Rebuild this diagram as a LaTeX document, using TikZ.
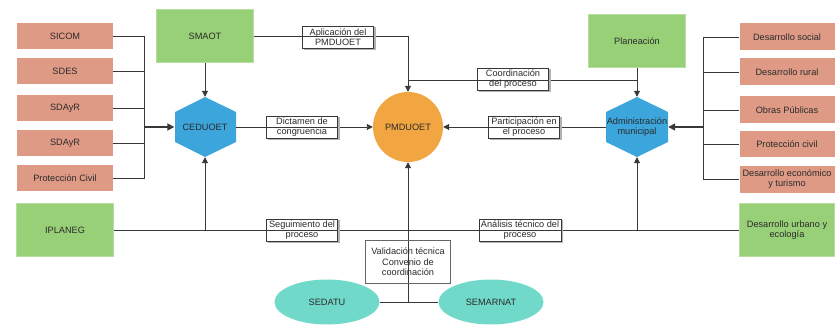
\documentclass[tikz,border=0pt]{standalone}
\usepackage{fontspec}
\setmainfont{Liberation Sans}
\usetikzlibrary{arrows.meta,shapes.geometric}
\definecolor{salmon}{HTML}{DE9A85}
\definecolor{leaf}{HTML}{98D078}
\definecolor{hexblue}{HTML}{3BA5DC}
\definecolor{orangec}{HTML}{F2A641}
\definecolor{tealc}{HTML}{70D9C9}
\definecolor{ink}{HTML}{2B2B2B}
\definecolor{wire}{HTML}{383838}
\begin{document}
\begin{tikzpicture}[x=1pt,y=-1pt,
  every node/.style={font=\fontsize{9.2}{10.5}\selectfont, text=ink, align=center},
  sbox/.style={rectangle, fill=salmon, minimum width=96pt, minimum height=26pt, inner sep=1pt},
  gbox/.style={rectangle, fill=leaf, draw=leaf!70!white, minimum width=97pt, minimum height=53pt, inner sep=1pt},
  hexn/.style={rectangle, minimum width=61pt, minimum height=60pt, inner sep=0pt},
  wireline/.style={draw=wire, line width=0.9pt},
  arr/.style={wireline, -{Triangle[length=6pt,width=6pt]}},
  busarr/.style={draw=wire, line width=1.6pt, -{Triangle[length=7pt,width=7pt]}},
  lbl/.style={rectangle, draw=wire, line width=0.7pt, minimum width=71pt, minimum height=22pt, inner xsep=2pt, inner ysep=0.5pt},
  shad/.style={draw=gray!60, line width=1.2pt},
  vbox/.style={rectangle, draw=gray!80!black, line width=0.6pt, minimum width=85pt, minimum height=43pt, inner sep=1pt}
]
\useasboundingbox (0,0) rectangle (835,326);

\newcommand{\lbox}[3]{%
  \node[lbl] (#1) at #2 {#3};
  \draw[shad] ([xshift=1.2pt,yshift=-1.6pt]#1.north east) -- ([xshift=1.2pt,yshift=-1.2pt]#1.south east) -- ([xshift=1.6pt,yshift=-1.2pt]#1.south west);
}

% left boxes
\node[sbox] (s1) at (65,36) {SICOM};
\node[sbox] (s2) at (65,71) {SDES};
\node[sbox] (s3) at (65,108) {SDAyR};
\node[sbox] (s4) at (65,143) {SDAyR};
\node[sbox] (s5) at (65,178) {Protección Civil};
\node[gbox] (ipl) at (65,230) {IPLANEG};
\node[gbox] (smaot) at (205,36) {SMAOT};

% right boxes
\node[sbox, minimum width=95pt, minimum height=27pt] (r1) at (787,37) {Desarrollo social};
\node[sbox, minimum width=95pt, minimum height=27pt] (r2) at (787,72) {Desarrollo rural};
\node[sbox, minimum width=95pt, minimum height=27pt] (r3) at (787,110) {Obras Públicas};
\node[sbox, minimum width=95pt, minimum height=26pt] (r4) at (787,144) {Protección civil};
\node[sbox, minimum width=95pt, minimum height=27pt] (r5) at (787,179) {Desarrollo económico\\y turismo};
\node[gbox, minimum width=95pt] (du) at (787,230) {Desarrollo urbano y\\ecología};
\node[gbox] (plan) at (637,41) {Planeación};

% hexagons
\fill[hexblue] (205,97) -- (236,112) -- (236,142) -- (205,157) -- (175,142) -- (175,112) -- cycle;
\node[hexn] (ced) at (205,127) {CEDUOET};
\fill[hexblue] (637,97) -- (668,112) -- (668,142) -- (637,157) -- (606,142) -- (606,112) -- cycle;
\node[hexn, minimum width=62pt] (adm) at (637,127) {Administración\\municipal};

% center circle
\node[circle, fill=orangec, minimum size=70pt, inner sep=0pt] (pm) at (408,127) {PMDUOET};

% ellipses
\node[ellipse, fill=tealc, minimum width=105pt, minimum height=45pt, inner sep=0pt] (sedatu) at (327,302) {SEDATU};
\node[ellipse, fill=tealc, minimum width=105pt, minimum height=45pt, inner sep=0pt] (semarnat) at (491,302) {SEMARNAT};

% left bus
\coordinate (busL) at (144,127);
\foreach \s in {s1,s2,s3,s4,s5} \draw[wireline] (\s.east) -| (busL);
\draw[busarr] (busL) -- (ced.west);

% right bus
\coordinate (busR) at (703,127);
\foreach \r in {r1,r2,r3,r4,r5} \draw[wireline] (\r.west) -| (busR);
\draw[busarr] (busR) -- (adm.east);

% SMAOT
\draw[arr] (smaot.south) -- (ced.north);
\draw[arr] (smaot.east) -| (pm.north);

% Planeacion
\draw[arr] (plan.south) -- (adm.north);
\coordinate (cjR) at (637,80);
\coordinate (cjL) at (408,80);
\draw[wireline] (cjR) -- (cjL);

% hex to circle
\draw[arr] (ced.east) -- (pm.west);
\draw[arr] (adm.west) -- (pm.east);

% bottom horizontal
\draw[wireline] (ipl.east) -- (du.west);
\draw[arr] (ced.south |- ipl.east) -- (ced.south);
\draw[arr] (adm.south |- du.west) -- (adm.south);

% ellipses
\draw[wireline] (sedatu.east) -- (semarnat.west);
\draw[arr] (pm.south |- sedatu.east) -- (pm.south);

% labels
\lbox{la}{(338,37)}{Aplicación del\\PMDUOET}
\lbox{lc}{(513,79)}{Coordinación\\del proceso}
\lbox{ld}{(302,127)}{Dictamen de\\congruencia}
\lbox{lp}{(524,127)}{Participación en\\el proceso}
\lbox{ls}{(302,230)}{Seguimiento del\\proceso}
\lbox{lt}{(520,230)}{Análisis técnico del\\proceso}
\node[vbox] (lv) at (408,262) {Validación técnica\\Convenio de\\coordinación};
\end{tikzpicture}
\end{document}
